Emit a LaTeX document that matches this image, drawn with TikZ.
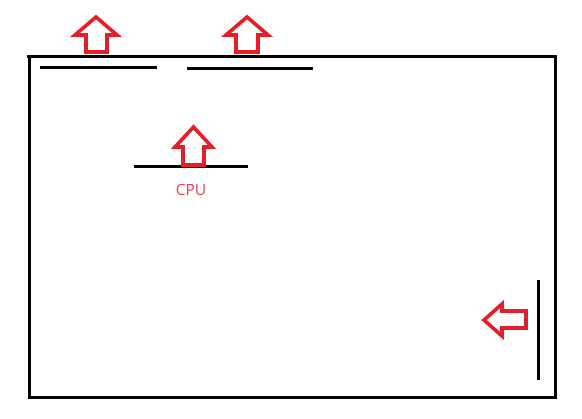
\documentclass[tikz,border=0pt]{standalone}
\usepackage{fontspec}
\setmainfont{Open Sans}
\definecolor{paintred}{RGB}{230,30,40}
\begin{document}
\begin{tikzpicture}[x=1pt,y=-1pt,
  blk/.style={line width=3pt,black},
  redarrow/.style={line width=3.6pt,paintred,line join=miter}]
\useasboundingbox (0,0) rectangle (582,419);
% frame
\draw[blk] (27,56.5) -- (555,56.5) -- (555,398) -- (29,398) -- (29,56.5);
% lines
\draw[blk] (40,68) -- (157,68);
\draw[blk] (187,69) -- (313,69);
\draw[blk] (134,167) -- (248,167);
\draw[blk] (538,280) -- (538,380);
% up arrows
\draw[redarrow] (96,17) -- (117,35) -- (107,35) -- (107,52) -- (86,52) -- (86,35) -- (75,35) -- cycle;
\draw[redarrow] (247,17) -- (268,35) -- (258,35) -- (258,52) -- (236,52) -- (236,35) -- (226,35) -- cycle;
\draw[redarrow] (193.5,127) -- (212,147) -- (204,147) -- (204,165) -- (183,165) -- (183,147) -- (175,147) -- cycle;
% left arrow
\draw[redarrow] (484,320) -- (502,304) -- (502,311) -- (526,311) -- (526,328) -- (502,328) -- (502,336) -- cycle;
\node[text=paintred!85!white,font=\fontsize{15.5}{18}\selectfont] (cpu) at (191,190) {CPU};
\end{tikzpicture}
\end{document}
